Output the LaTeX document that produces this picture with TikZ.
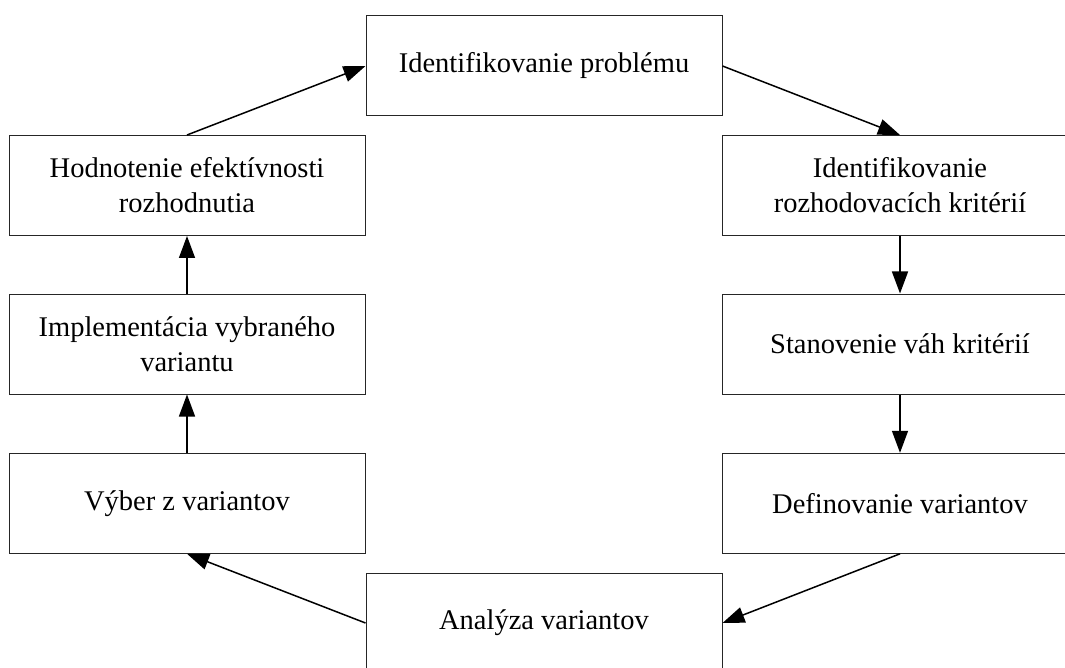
\documentclass[tikz,border=0pt]{standalone}
\usepackage{fontspec}
\setmainfont{Liberation Serif}
\usetikzlibrary{arrows.meta}
\begin{document}
\begin{tikzpicture}[x=1pt,y=-1pt,
  box/.style={draw=black!85, line width=1pt, minimum width=356pt, minimum height=100pt,
    inner sep=0pt, align=center, font=\fontsize{28.5}{35}\selectfont},
  arr/.style={line width=1.5pt, -{Triangle[length=22pt,width=16pt]}}]
\useasboundingbox (0,0) rectangle (1065,668);
\fill[white] (0,0) rectangle (1065,668);
\node[box] (top) at (544,66) {Identifikovanie problému};
\node[box] (hod) at (187,185.5) {Hodnotenie efektívnosti\\rozhodnutia};
\node[box] (imp) at (187,344) {Implementácia vybraného\\variantu};
\node[box] (vyb) at (187,503.3) {Výber z variantov};
\node[box] (kri) at (900,185.5) {Identifikovanie\\rozhodovacích kritérií};
\node[box] (vah) at (900,344) {Stanovenie váh kritérií};
\node[box] (def) at (900,503.3) {Definovanie variantov};
\node[box] (ana) at (544,623) {Analýza variantov};
\draw[arr] (hod.north) -- (top.west);
\draw[arr] (top.east) -- (kri.north);
\draw[arr] (kri.south) -- (vah.north);
\draw[arr] (vah.south) -- (def.north);
\draw[arr] (def.south) -- (ana.east);
\draw[arr] (ana.west) -- (vyb.south);
\draw[arr] (vyb.north) -- (imp.south);
\draw[arr] (imp.north) -- (hod.south);
\end{tikzpicture}
\end{document}
